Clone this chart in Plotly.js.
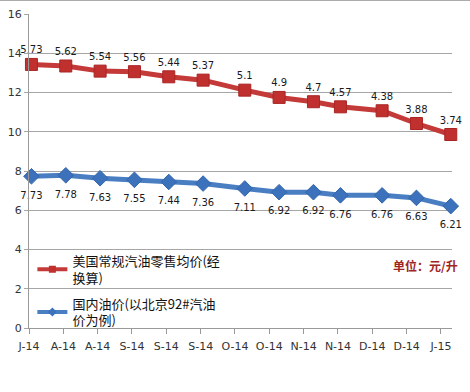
<!DOCTYPE html>
<html>
<head>
<meta charset="utf-8">
<script src="https://cdn.plot.ly/plotly-3.0.1.min.js"></script>
<style>html,body{margin:0;padding:0;background:#fff;}#chart{width:470px;height:392px;}</style>
</head>
<body>
<div id="chart"></div>
<script>
// Price adjustment dates
const dates = ['2014-07-22','2014-08-05','2014-08-19','2014-09-02','2014-09-16','2014-09-30','2014-10-17','2014-10-31','2014-11-14','2014-11-25','2014-12-12','2014-12-26','2015-01-09'];
// US regular gasoline retail average (converted), plotted values
const usValues = [13.43, 13.35, 13.09, 13.06, 12.80, 12.63, 12.12, 11.75, 11.53, 11.27, 11.07, 10.42, 9.86];
// US data labels as shown
const usLabels = ['5.73','5.62','5.54','5.56','5.44','5.37','5.1','4.9','4.7','4.57','4.38','3.88','3.74'];
// Domestic price (Beijing 92#)
const cnValues = [7.73, 7.78, 7.63, 7.55, 7.44, 7.36, 7.11, 6.92, 6.92, 6.76, 6.76, 6.63, 6.21];
const cnLabels = ['7.73','7.78','7.63','7.55','7.44','7.36','7.11','6.92','6.92','6.76','6.76','6.63','6.21'];
// x-axis ticks
const tickDates = ['2014-07-21','2014-08-04','2014-08-18','2014-09-01','2014-09-15','2014-09-29','2014-10-13','2014-10-27','2014-11-10','2014-11-24','2014-12-08','2014-12-22','2015-01-05'];
const tickLabels = ['J-14','A-14','A-14','S-14','S-14','S-14','O-14','O-14','N-14','N-14','D-14','D-14','J-15'];
const seriesNames = ['美国常规汽油零售均价(经<br>换算)', '国内油价(以北京92#汽油<br>价为例)'];

const labelFont = {family: 'DejaVu Sans, Verdana, sans-serif', size: 10, color: '#1a1a1a'};
const redLine = '#c33a38', redMarker = '#c0302e';
const blueLine = '#4a7ec3', blueMarker = '#3c72bb';

const traces = [
  {
    x: dates, y: usValues, text: usLabels, name: seriesNames[0], showlegend: false,
    type: 'scatter', mode: 'lines+markers+text', textposition: 'top center',
    textfont: labelFont,
    line: {color: redLine, width: 5},
    marker: {symbol: 'square', size: 12, color: redMarker, line: {color: '#a82624', width: 1}},
    cliponaxis: false
  },
  {
    x: dates, y: cnValues, name: seriesNames[1], showlegend: false,
    type: 'scatter', mode: 'lines+markers',
    line: {color: blueLine, width: 5},
    marker: {symbol: 'diamond', size: 12, color: blueMarker, line: {color: '#3366aa', width: 1}},
    cliponaxis: false
  },
  // blue data labels (invisible spacer markers push labels a bit lower)
  {
    x: dates, y: cnValues, text: cnLabels, showlegend: false, hoverinfo: 'skip',
    type: 'scatter', mode: 'markers+text', textposition: 'bottom center',
    textfont: labelFont,
    marker: {size: 22, color: 'rgba(0,0,0,0)'},
    cliponaxis: false
  },
  // legend entries
  {
    x: [null], y: [null], name: seriesNames[0], legendgroup: 'us',
    type: 'scatter', mode: 'lines+markers',
    line: {color: redLine, width: 4},
    marker: {symbol: 'square', size: 7, color: redMarker}
  },
  {
    x: [null], y: [null], name: seriesNames[1], legendgroup: 'cn',
    type: 'scatter', mode: 'lines+markers',
    line: {color: blueLine, width: 4},
    marker: {symbol: 'diamond', size: 7, color: blueMarker}
  }
];

const layout = {
  width: 470, height: 392,
  margin: {l: 29, r: 18, t: 14, b: 64},
  paper_bgcolor: '#ffffff', plot_bgcolor: '#ffffff',
  showlegend: true,
  legend: {
    x: 0.008, y: 0.262, xanchor: 'left', yanchor: 'top',
    bgcolor: 'rgba(0,0,0,0)',
    font: {family: 'Noto Sans CJK SC, sans-serif', size: 13, color: '#111'},
    traceorder: 'grouped',
    tracegroupgap: 6
  },
  xaxis: {
    type: 'date',
    range: ['2014-07-21', '2015-01-09 12:00'],
    tickmode: 'array', tickvals: tickDates, ticktext: tickLabels,
    ticks: 'outside', ticklen: 5, tickcolor: '#999',
    ticklabelstandoff: 3,
    showgrid: false, showline: true, linecolor: '#999', linewidth: 1,
    zeroline: false,
    tickfont: {family: 'DejaVu Sans, Verdana, sans-serif', size: 11, color: '#333'}
  },
  yaxis: {
    range: [0, 16], dtick: 2, tick0: 0,
    showgrid: true, gridcolor: '#a6a6a6', gridwidth: 1,
    showline: true, linecolor: '#999', linewidth: 1,
    ticks: 'outside', ticklen: 4, tickcolor: '#a6a6a6',
    zeroline: false,
    tickfont: {family: 'DejaVu Sans, Verdana, sans-serif', size: 11, color: '#333'}
  },
  annotations: [
    {
      text: '<b>单位：元/升</b>', xref: 'paper', yref: 'paper',
      x: 1.018, y: 0.2, xanchor: 'right', yanchor: 'middle', showarrow: false,
      font: {family: 'Noto Sans CJK SC, sans-serif', size: 12, color: '#a02522'}
    }
  ],
  shapes: [
    {type: 'line', xref: 'paper', yref: 'paper', x0: -0.1, x1: 1.1, y0: 1.043, y1: 1.043,
     line: {color: '#aaaaaa', width: 1}}
  ]
};

Plotly.newPlot('chart', traces, layout, {displayModeBar: false, staticPlot: true});
</script>
</body>
</html>
